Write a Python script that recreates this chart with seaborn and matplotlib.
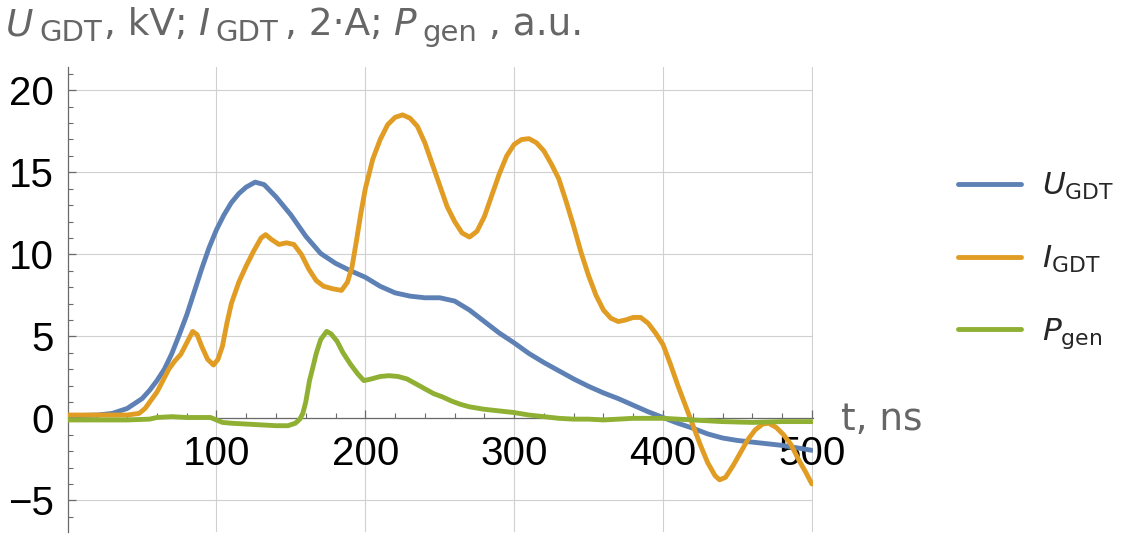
import numpy as np
import pandas as pd
import matplotlib
matplotlib.use("Agg")
import matplotlib.pyplot as plt
import seaborn as sns

# ---------- data ----------
t_u = [0, 20, 30, 40, 50, 55, 60, 65, 70, 75, 80, 85, 90, 95, 100, 105, 110, 115,
       120, 126, 132, 140, 150, 160, 170, 180, 190, 200, 210, 220, 230, 240, 250,
       260, 270, 280, 290, 300, 310, 320, 330, 340, 350, 360, 370, 380, 390, 400,
       410, 420, 430, 440, 450, 460, 470, 480, 490, 500]
u_gdt = [0.15, 0.2, 0.3, 0.6, 1.2, 1.7, 2.3, 3.0, 3.95, 5.1, 6.3, 7.7, 9.1, 10.4,
         11.5, 12.4, 13.15, 13.7, 14.1, 14.4, 14.25, 13.5, 12.4, 11.1, 10.05, 9.45,
         9.0, 8.6, 8.05, 7.65, 7.45, 7.35, 7.35, 7.15, 6.6, 5.9, 5.2, 4.6, 3.95,
         3.4, 2.9, 2.4, 1.95, 1.55, 1.2, 0.8, 0.4, 0.05, -0.3, -0.6, -0.95, -1.2,
         -1.35, -1.45, -1.55, -1.65, -1.8, -1.95]

t_i = [0, 20, 40, 48, 52, 56, 60, 64, 68, 72, 76, 80, 84, 87, 90, 94, 98, 101, 104,
       107, 110, 115, 120, 125, 130, 133, 137, 142, 147, 152, 157, 162, 167, 172,
       178, 184, 188, 191, 194, 197, 200, 205, 210, 215, 220, 225, 230, 235, 240,
       245, 250, 255, 260, 265, 270, 275, 280, 285, 290, 295, 300, 305, 310, 315,
       320, 325, 330, 335, 340, 345, 350, 355, 360, 365, 370, 375, 380, 385, 390,
       395, 400, 405, 410, 415, 420, 425, 430, 435, 438, 442, 447, 452, 457, 462,
       467, 471, 476, 481, 486, 491, 496, 500]
i_gdt = [0.2, 0.2, 0.2, 0.3, 0.6, 1.1, 1.6, 2.3, 3.0, 3.5, 3.9, 4.6, 5.3, 5.1, 4.4,
         3.6, 3.25, 3.6, 4.4, 5.8, 7.0, 8.3, 9.3, 10.2, 11.0, 11.2, 10.9, 10.6,
         10.7, 10.6, 10.0, 9.1, 8.4, 8.05, 7.9, 7.8, 8.3, 9.2, 10.8, 12.5, 14.0,
         15.8, 17.0, 17.9, 18.35, 18.5, 18.3, 17.8, 16.8, 15.5, 14.2, 12.9, 12.0,
         11.3, 11.05, 11.4, 12.3, 13.6, 14.9, 16.0, 16.7, 17.0, 17.05, 16.8, 16.3,
         15.5, 14.6, 13.2, 11.7, 10.1, 8.7, 7.5, 6.6, 6.1, 5.9, 6.0, 6.15, 6.15,
         5.8, 5.2, 4.5, 3.3, 2.0, 0.8, -0.4, -1.6, -2.7, -3.5, -3.75, -3.6, -2.9,
         -2.1, -1.3, -0.7, -0.35, -0.3, -0.55, -1.0, -1.6, -2.5, -3.3, -4.0]

t_p = [0, 20, 40, 55, 60, 70, 80, 90, 96, 100, 104, 110, 120, 130, 140, 148, 153,
       156, 158, 160, 162.5, 165, 167, 170, 174, 177, 181, 185, 190, 195, 199, 204,
       210, 216, 222, 228, 234, 240, 246, 252, 258, 264, 270, 280, 290, 300, 310,
       320, 330, 340, 350, 360, 370, 380, 390, 400, 410, 420, 440, 460, 480, 500]
p_gen = [-0.1, -0.1, -0.1, -0.05, 0.05, 0.1, 0.05, 0.05, 0.05, -0.1, -0.25, -0.3,
         -0.35, -0.4, -0.45, -0.45, -0.3, -0.05, 0.3, 1.0, 2.3, 3.2, 3.95, 4.8,
         5.3, 5.15, 4.7, 4.0, 3.3, 2.7, 2.3, 2.4, 2.55, 2.6, 2.55, 2.4, 2.1, 1.8,
         1.5, 1.3, 1.05, 0.85, 0.7, 0.55, 0.45, 0.35, 0.2, 0.1, 0.0, -0.05, -0.05,
         -0.1, -0.05, 0.0, 0.0, 0.0, -0.05, -0.1, -0.2, -0.25, -0.2, -0.2]

series_names = ["U", "I", "P"]
legend_labels = [r"$U_{\mathrm{GDT}}$", r"$I_{\mathrm{GDT}}$", r"$P_{\mathrm{gen}}$"]
colors = ["#5E81B5", "#E19C24", "#8FB032"]

x_ticks = [100, 200, 300, 400, 500]
y_ticks = [-5, 0, 5, 10, 15, 20]

df = pd.concat([
    pd.DataFrame({"t": t_u, "value": u_gdt, "series": "U"}),
    pd.DataFrame({"t": t_i, "value": i_gdt, "series": "I"}),
    pd.DataFrame({"t": t_p, "value": p_gen, "series": "P"}),
], ignore_index=True)

# ---------- style ----------
sns.set_style("white")
plt.rcParams["font.family"] = ["Liberation Sans", "DejaVu Sans"]
plt.rcParams["mathtext.fontset"] = "dejavusans"

W, H = 1139, 536
fig = plt.figure(figsize=(W / 100, H / 100), dpi=100)
ax = fig.add_axes([0.0594, 0.0075, 0.654, 0.8675])

sns.lineplot(data=df, x="t", y="value", hue="series", hue_order=series_names,
             palette=dict(zip(series_names, colors)), estimator=None, sort=True,
             linewidth=3.5, legend=False, zorder=3, ax=ax)

ax.set_xlim(0, 500.5)
ax.set_ylim(-6.93, 21.42)
ax.set_xlabel("")
ax.set_ylabel("")

ax.set_xticks(x_ticks)
ax.set_yticks(y_ticks)
ax.set_xticks(np.arange(20, 501, 20), minor=True)
ax.set_yticks(np.arange(-6, 22, 1), minor=True)

ax.grid(True, which="major", color="#d0d0d0", linewidth=0.8)
ax.set_axisbelow(True)

for s in ["top", "right"]:
    ax.spines[s].set_visible(False)
ax.spines["bottom"].set_position(("data", 0))
ax.spines["left"].set_position(("data", 0))
for s in ["bottom", "left"]:
    ax.spines[s].set_color("#6a6a6a")
    ax.spines[s].set_linewidth(0.9)

ax.tick_params(axis="both", which="both", direction="in", color="#6a6a6a",
               labelcolor="black", labelsize=29, bottom=True, left=True)
ax.tick_params(axis="both", which="major", length=6, width=0.9)
ax.tick_params(axis="both", which="minor", length=3.5, width=0.8)
ax.tick_params(axis="x", which="major", pad=12)
ax.tick_params(axis="y", which="major", pad=10)

# ---------- labels ----------
gray = "#666666"
main_size, sub_size = 27, 21
base_main, base_sub = 1 - 35 / H, 1 - 41 / H
title_parts = [
    (6, "U", "italic", main_size, base_main),
    (39, "GDT", "normal", sub_size, base_sub),
    (104, ", kV;", "normal", main_size, base_main),
    (199, "I", "italic", main_size, base_main),
    (215, "GDT", "normal", sub_size, base_sub),
    (285, ", 2·A;", "normal", main_size, base_main),
    (394, "P", "italic", main_size, base_main),
    (422, "gen", "normal", sub_size, base_sub),
    (489, ", a.u.", "normal", main_size, base_main),
]
for px, txt, style, size, yb in title_parts:
    fig.text(px / W, yb, txt, family="DejaVu Sans", style=style, fontsize=size,
             color=gray, ha="left", va="baseline")

fig.text(841 / W, 1 - 420 / H, "t, ns", family="DejaVu Sans", fontsize=main_size,
         color=gray, ha="left", va="center")

leg = ax.legend(ax.lines[:3], legend_labels, loc="center left",
                bbox_to_anchor=(958 / W, 1 - 261 / H), bbox_transform=fig.transFigure,
                frameon=False, fontsize=22.5, handlelength=2.0, handletextpad=0.7,
                labelspacing=1.33, borderpad=0, borderaxespad=0)
for line in leg.get_lines():
    line.set_linewidth(3.5)

fig.savefig("out.png", dpi=100)
